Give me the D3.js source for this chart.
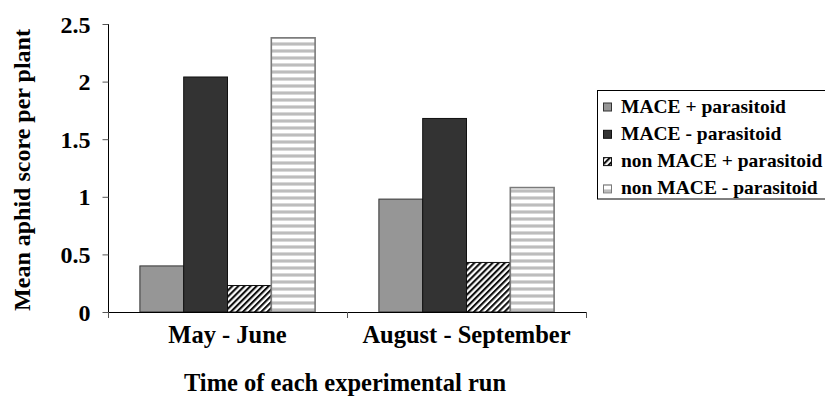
<!DOCTYPE html>
<html><head><meta charset="utf-8">
<script src="https://cdn.jsdelivr.net/npm/d3@7"></script>
<style>body{margin:0;background:#fff}svg{display:block}</style>
</head><body>
<script>
const categories = ["May - June", "August - September"];
const seriesNames = ["MACE + parasitoid", "MACE - parasitoid", "non MACE + parasitoid", "non MACE - parasitoid"];
const maceWithParasitoid = [0.40, 0.98];
const maceNoParasitoid = [2.04, 1.68];
const nonMaceWithParasitoid = [0.23, 0.43];
const nonMaceNoParasitoid = [2.38, 1.08];
const yTicks = [0, 0.5, 1, 1.5, 2, 2.5];
const yTickLabels = ["0", "0.5", "1", "1.5", "2", "2.5"];
const seriesValues = [maceWithParasitoid, maceNoParasitoid, nonMaceWithParasitoid, nonMaceNoParasitoid];

const FONT = '"Liberation Serif", "Times New Roman", Times, serif';
const W = 825, H = 396;
const svg = d3.select("body").append("svg").attr("width", W).attr("height", H);
const defs = svg.append("defs");
const hatch = defs.append("pattern").attr("id", "hatch").attr("patternUnits", "userSpaceOnUse")
  .attr("width", 4.3).attr("height", 4.3).attr("patternTransform", "rotate(45)");
hatch.append("rect").attr("width", 4.3).attr("height", 4.3).attr("fill", "#fff");
hatch.append("rect").attr("width", 2.1).attr("height", 4.3).attr("fill", "#111");
const hstripe = defs.append("pattern").attr("id", "hstripe").attr("patternUnits", "userSpaceOnUse")
  .attr("width", 7).attr("height", 7);
hstripe.append("rect").attr("width", 7).attr("height", 7).attr("fill", "#fff");
hstripe.append("rect").attr("width", 7).attr("height", 1).attr("y", 0).attr("fill", "#d8d8d8");
hstripe.append("rect").attr("width", 7).attr("height", 2).attr("y", 1).attr("fill", "#bdbdbd");
hstripe.append("rect").attr("width", 7).attr("height", 1).attr("y", 3).attr("fill", "#d8d8d8");

const fills = ["#969696", "#333333", "url(#hatch)", "url(#hstripe)"];
const strokes = ["#333", "#111", "#111", "#7a7a7a"];
const strokeW = [1, 1, 1, 1.6];

const x0 = d3.scaleBand().domain(categories).range([108, 586]).padding(0);
const x1 = d3.scaleBand().domain(seriesNames).range([0, x0.bandwidth()]).paddingInner(0).paddingOuter(0.728);
const y = d3.scaleLinear().domain([0, 2.5]).range([312, 24]);

// bars
const g = svg.append("g");
categories.forEach((c, ci) => {
  seriesNames.forEach((s, si) => {
    const v = seriesValues[si][ci];
    g.append("rect")
      .attr("x", x0(c) + x1(s))
      .attr("y", y(v))
      .attr("width", x1.bandwidth())
      .attr("height", y(0) - y(v))
      .attr("fill", fills[si])
      .attr("stroke", strokes[si])
      .attr("stroke-width", strokeW[si]);
  });
});

// y axis
const yAxis = d3.axisLeft(y).tickValues(yTicks).tickFormat((d, i) => yTickLabels[i]).tickSize(6).tickPadding(12);
const ya = svg.append("g").attr("transform", "translate(108.5,0)").call(yAxis)
  .attr("font-family", FONT).attr("font-size", 24).attr("font-weight", "bold");
ya.select(".domain").attr("stroke", "#000").attr("d", "M0,24V318");
ya.selectAll(".tick line").attr("stroke", "#555");
ya.selectAll(".tick text").attr("fill", "#000").attr("dy", "0.34em");

// x axis
svg.append("line").attr("x1", 108).attr("x2", x0.range()[1]).attr("y1", 312.5).attr("y2", 312.5).attr("stroke", "#000");
const bounds = [x0.range()[0], ...categories.map(c => x0(c) + x0.bandwidth())];
bounds.forEach(b => {
  svg.append("line").attr("x1", b + 0.5).attr("x2", b + 0.5).attr("y1", 312).attr("y2", 318).attr("stroke", "#555");
});
categories.forEach(c => {
  svg.append("text").attr("x", x0(c) + x0.bandwidth() / 2).attr("y", 343)
    .attr("text-anchor", "middle").attr("font-family", FONT).attr("font-weight", "bold")
    .attr("font-size", 24.5).text(c);
});

// titles
svg.append("text").attr("x", 345).attr("y", 391).attr("text-anchor", "middle")
  .attr("font-family", FONT).attr("font-weight", "bold").attr("font-size", 24.5)
  .text("Time of each experimental run");
svg.append("text").attr("transform", "translate(30,170) rotate(-90)").attr("text-anchor", "middle")
  .attr("font-family", FONT).attr("font-weight", "bold").attr("font-size", 24)
  .text("Mean aphid score per plant");

// legend
svg.append("rect").attr("x", 597.5).attr("y", 90.5).attr("width", 240).attr("height", 108.5)
  .attr("fill", "#fff").attr("stroke", "#000");
seriesNames.forEach((s, i) => {
  const base = 112.5 + i * 27.3;
  svg.append("rect").attr("x", 603.5).attr("y", base - 9.5).attr("width", 8).attr("height", 8)
    .attr("fill", fills[i]).attr("stroke", strokes[i]).attr("stroke-width", 1);
  svg.append("text").attr("x", 621).attr("y", base)
    .attr("font-family", FONT).attr("font-weight", "bold").attr("font-size", 19.5).text(s);
});
</script>
</body></html>
